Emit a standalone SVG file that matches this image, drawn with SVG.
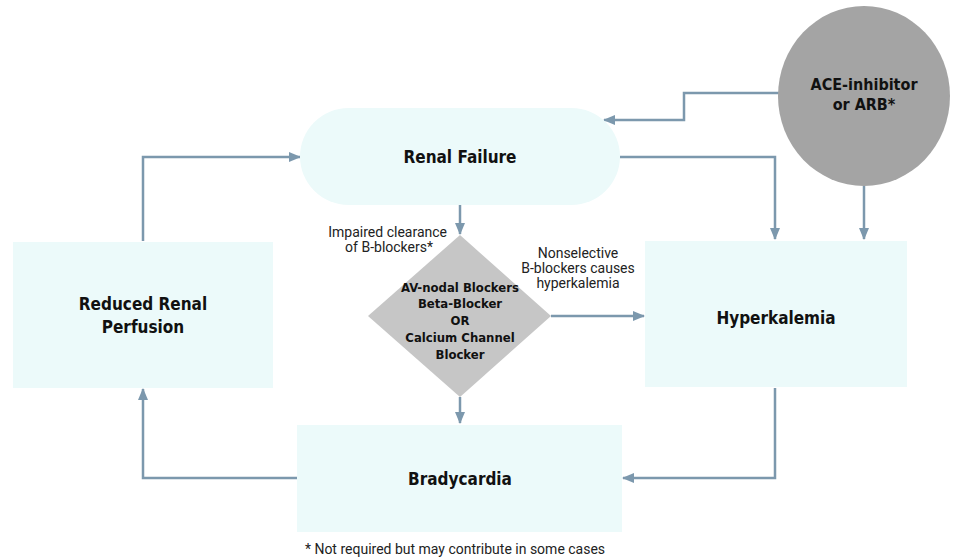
<svg xmlns="http://www.w3.org/2000/svg" width="964" height="558" viewBox="0 0 964 558">
<style>
.box{fill:#ecfafa;}
.title{font-family:"DejaVu Sans Condensed","DejaVu Sans",sans-serif;font-stretch:condensed;font-weight:bold;font-size:17px;fill:#111;text-anchor:middle;}
.dia{font-family:"DejaVu Sans Condensed","DejaVu Sans",sans-serif;font-stretch:condensed;font-weight:bold;font-size:13px;fill:#111;text-anchor:middle;}
.lbl{font-family:Roboto,"Liberation Sans",sans-serif;font-size:14px;fill:#222;}
.conn{fill:none;stroke:#7c98ad;stroke-width:2.5;marker-end:url(#ah);}
</style>
<defs>
<marker id="ah" viewBox="0 0 12 10" refX="11" refY="5" markerWidth="12" markerHeight="10" markerUnits="userSpaceOnUse" orient="auto">
<path d="M0,0 L12,5 L0,10 z" fill="#7c98ad"/>
</marker>
</defs>
<rect width="964" height="558" fill="#ffffff"/>

<g id="connectors">
<polyline class="conn" points="460,205 460,234"/>
<polyline class="conn" points="551,316 644,316"/>
<polyline class="conn" points="460,397 460,423"/>
<polyline class="conn" points="620,157 775,157 775,239"/>
<polyline class="conn" points="784,93 684,93 684,120 604,120"/>
<polyline class="conn" points="864,186 864,239"/>
<polyline class="conn" points="775,388 775,478 623,478"/>
<polyline class="conn" points="297,478 143,478 143,389"/>
<polyline class="conn" points="143,241 143,157 300,157"/>
</g>

<g id="renal-failure">
<rect class="box" x="300" y="108" width="320" height="97" rx="48.5" ry="48.5"/>
<text class="title" x="460" y="163">Renal Failure</text>
</g>

<g id="ace-inhibitor">
<ellipse cx="864" cy="96" rx="86" ry="90" fill="#a4a4a4"/>
<text class="title" x="864" y="90" style="font-size:16px">ACE-inhibitor</text>
<text class="title" x="864" y="110" style="font-size:16px">or ARB*</text>
</g>

<g id="reduced-renal-perfusion">
<rect class="box" x="13" y="242" width="260" height="146"/>
<text class="title" x="143" y="310">Reduced Renal</text>
<text class="title" x="143" y="333">Perfusion</text>
</g>

<g id="hyperkalemia">
<rect class="box" x="645" y="241" width="262" height="146"/>
<text class="title" x="776" y="324">Hyperkalemia</text>
</g>

<g id="bradycardia">
<rect class="box" x="297" y="425" width="325" height="107"/>
<text class="title" x="460" y="485">Bradycardia</text>
</g>

<g id="av-nodal-blockers">
<polygon points="460,235 551,316 460,397 368,316" fill="#c6c6c6"/>
<text class="dia" x="460" y="292">AV-nodal Blockers</text>
<text class="dia" x="460" y="308">Beta-Blocker</text>
<text class="dia" x="460" y="325">OR</text>
<text class="dia" x="460" y="342">Calcium Channel</text>
<text class="dia" x="460" y="359">Blocker</text>
</g>

<g id="labels">
<text class="lbl" x="447" y="237" text-anchor="end">Impaired clearance</text>
<text class="lbl" x="433" y="252" text-anchor="end">of B-blockers*</text>
<text class="lbl" x="578" y="258" text-anchor="middle">Nonselective</text>
<text class="lbl" x="578" y="273" text-anchor="middle">B-blockers causes</text>
<text class="lbl" x="578" y="288" text-anchor="middle">hyperkalemia</text>
<text class="lbl" x="455" y="554" text-anchor="middle">* Not required but may contribute in some cases</text>
</g>
</svg>
